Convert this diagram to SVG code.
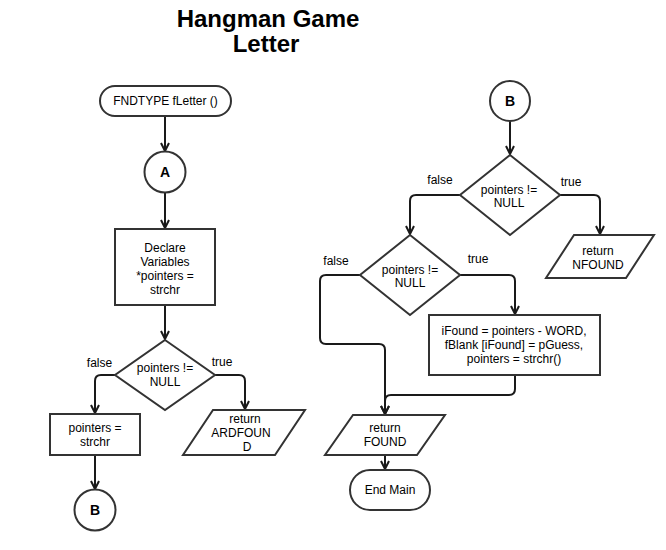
<svg xmlns="http://www.w3.org/2000/svg" width="666" height="550" viewBox="0 0 666 550">
<defs>
<marker id="arr" viewBox="0 0 10 10" refX="9" refY="5" markerWidth="10" markerHeight="10" markerUnits="userSpaceOnUse" orient="auto">
<path d="M1,1 L9,5 L1,9" fill="none" stroke="#1a1a1a" stroke-width="2"/>
</marker>
<style>
.sh{fill:#fff;stroke:#333;stroke-width:2}
.t{font-family:"Liberation Sans",Arial,sans-serif;font-size:12px;fill:#000;text-anchor:middle}
.b{font-family:"Liberation Sans",Arial,sans-serif;font-size:14px;font-weight:bold;fill:#000;text-anchor:middle}
.ttl{font-family:"Liberation Sans",Arial,sans-serif;font-size:24px;font-weight:bold;fill:#000;text-anchor:middle}
.e{fill:none;stroke:#1a1a1a;stroke-width:2;marker-end:url(#arr)}
</style>
</defs>
<rect width="666" height="550" fill="#fff"/>
<g id="title">
<text class="ttl" x="268" y="27">Hangman Game</text>
<text class="ttl" x="266" y="52">Letter</text>
</g>
<g id="connectors">
<path class="e" d="M165,116 L165,151"/>
<path class="e" d="M165,193 L165,228"/>
<path class="e" d="M165,305 L165,339"/>
<path class="e" d="M115,375 L101,375 Q95,375 95,381 L95,413"/>
<path class="e" d="M214,375 L239,375 Q245,375 245,381 L245,409"/>
<path class="e" d="M95,455 L95,489"/>
<path class="e" d="M510,121 L510,154"/>
<path class="e" d="M460,195 L416,195 Q410,195 410,201 L410,234"/>
<path class="e" d="M559,195 L594,195 Q600,195 600,201 L600,234"/>
<path class="e" d="M360,275 L326,275 Q320,275 320,281 L320,338 Q320,344 326,344 L379,344 Q385,344 385,350 L385,414"/>
<path class="e" d="M460,275 L509,275 Q515,275 515,281 L515,314"/>
<path class="e" d="M515,375 L515,389 Q515,395 509,395 L391,395 Q385,395 385,401 L385,414"/>
<path class="e" d="M385,455 L385,469"/>
</g>
<g id="start">
<rect class="sh" x="100" y="86" width="131" height="30" rx="15"/>
<text class="t" x="165.5" y="105">FNDTYPE fLetter ()</text>
</g>
<g id="connA">
<circle class="sh" cx="165" cy="172" r="20.5"/>
<text class="b" x="165" y="177">A</text>
</g>
<g id="declare">
<rect class="sh" x="115" y="229" width="100" height="76"/>
<text class="t" x="165" y="252">Declare</text>
<text class="t" x="165" y="266">Variables</text>
<text class="t" x="165" y="280">*pointers =</text>
<text class="t" x="165" y="294">strchr</text>
</g>
<g id="dec1">
<polygon class="sh" points="165,340 215,375 165,410 115,375"/>
<text class="t" x="165" y="372">pointers !=</text>
<text class="t" x="165" y="386">NULL</text>
<text class="t" x="99.5" y="367">false</text>
<text class="t" x="222" y="366">true</text>
</g>
<g id="assign">
<rect class="sh" x="50" y="414" width="90" height="41"/>
<text class="t" x="95" y="432">pointers =</text>
<text class="t" x="95" y="446">strchr</text>
</g>
<g id="ardfound">
<polygon class="sh" points="213,410 305,410 275,455 183,455"/>
<text class="t" x="245" y="423">return</text>
<text class="t" x="241" y="437">ARDFOUN</text>
<text class="t" x="247" y="451">D</text>
</g>
<g id="connB1">
<circle class="sh" cx="95" cy="510" r="20.5"/>
<text class="b" x="95" y="515">B</text>
</g>
<g id="connB2">
<circle class="sh" cx="510" cy="101" r="20"/>
<text class="b" x="510" y="106">B</text>
</g>
<g id="dec2">
<polygon class="sh" points="510,155 560,195 510,235 460,195"/>
<text class="t" x="509" y="194">pointers !=</text>
<text class="t" x="509" y="207">NULL</text>
<text class="t" x="440" y="184">false</text>
<text class="t" x="571" y="186">true</text>
</g>
<g id="nfound">
<polygon class="sh" points="574,235 654,235 626,278 546,278"/>
<text class="t" x="598" y="255">return</text>
<text class="t" x="598" y="269">NFOUND</text>
</g>
<g id="dec3">
<polygon class="sh" points="410,235 460,275 410,315 360,275"/>
<text class="t" x="410" y="274">pointers !=</text>
<text class="t" x="410" y="287">NULL</text>
<text class="t" x="336" y="265">false</text>
<text class="t" x="478" y="263">true</text>
</g>
<g id="ifound">
<rect class="sh" x="429" y="315" width="171" height="60"/>
<text class="t" x="514" y="335">iFound = pointers - WORD,</text>
<text class="t" x="514" y="349">fBlank [iFound] = pGuess,</text>
<text class="t" x="514" y="363">pointers = strchr()</text>
</g>
<g id="found">
<polygon class="sh" points="353,415 445,415 417,455 325,455"/>
<text class="t" x="385" y="432">return</text>
<text class="t" x="385" y="446">FOUND</text>
</g>
<g id="end">
<rect class="sh" x="350" y="470" width="80" height="40" rx="20"/>
<text class="t" x="390" y="494">End Main</text>
</g>
</svg>
